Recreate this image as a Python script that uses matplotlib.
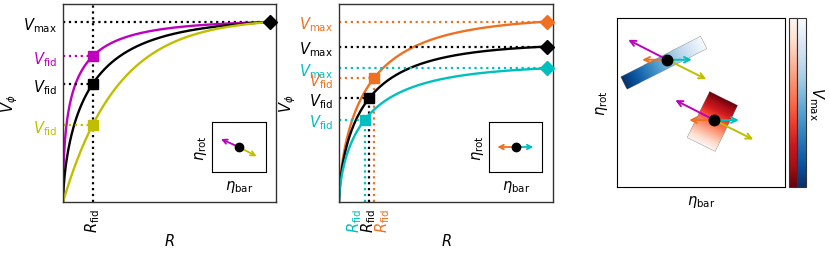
import numpy as np
import matplotlib.pyplot as plt
from matplotlib.transforms import ScaledTranslation
from matplotlib.colorbar import ColorbarBase

ORANGE = '#ee7020'

# Panel 1: same V_max, different curve shapes (magenta, black, yellow)
p1_colors = ['m', 'k', 'y']
p1_vmax = 0.909
p1_rfid = 0.139
p1_vfid = [0.736, 0.596, 0.389]
p1_shape = [0.5, 0.65, 1.0]

# Panel 2: different V_max (orange, black, cyan)
p2_colors = [ORANGE, 'k', 'c']
p2_vmax = [0.911, 0.785, 0.675]
p2_rfid = [0.164, 0.141, 0.121]
p2_vfid = [0.626, 0.524, 0.416]
p2_shape = [0.65, 0.65, 0.65]
p2_rlabel_shift = [0.085, 0.0, -0.105]   # inches, to spread the R_fid labels

r_end = 0.97

# inset arrows (tip positions, inset axes fraction)
ins1_colors = ['m', 'y']
ins1_tips = [(0.168, 0.66), (0.832, 0.314)]
ins2_colors = [ORANGE, 'c']
ins2_tips = [(0.156, 0.5), (0.831, 0.5)]

# Panel 3: two galaxies in (eta_bar, eta_rot) plane
gal_pos = [(0.299, 0.753), (0.579, 0.396)]
arrow_colors = ['m', 'y', ORANGE, 'c']
arrow_offsets = [(-0.232, 0.118), (0.232, -0.115), (-0.149, 0.0), (0.146, 0.0)]
# gradient bands: dark end, light end, width, colormap
bands = [((0.040, 0.615), (0.516, 0.856), 0.083, 'Blues'),
         ((0.635, 0.524), (0.501, 0.251), 0.187, 'Reds')]


def rot_curve(r, r_fid, v_fid, v_max, p):
    # V = Vmax * g(R)/g(R_end), g = 1 - exp(-(R/a)^p), a set by V(R_fid) = V_fid
    def g(x, a):
        return 1 - np.exp(-(x / a) ** p)
    target = v_fid / v_max
    lo, hi = np.log(1e-4), np.log(10.0)
    for i in range(80):
        mid = 0.5 * (lo + hi)
        a = np.exp(mid)
        if g(r_fid, a) / g(r_end, a) > target:
            lo = mid
        else:
            hi = mid
    a = np.exp(0.5 * (lo + hi))
    return v_max * g(r, a) / g(r_end, a)


def style_axes(ax):
    ax.set_xlim(0, 1)
    ax.set_ylim(0, 1)
    ax.tick_params(length=0, labelsize=10.5, pad=4)
    for s in ax.spines.values():
        s.set_color('0.2')
        s.set_linewidth(1.0)


def inset(fig, rect, colors, tips):
    ia = fig.add_axes(rect)
    ia.set_xlim(0, 1)
    ia.set_ylim(0, 1)
    ia.set_xticks([])
    ia.set_yticks([])
    for c, tip in zip(colors, tips):
        ia.annotate('', xy=tip, xytext=(0.5, 0.5),
                    arrowprops=dict(arrowstyle='->', color=c, lw=1.3,
                                    shrinkA=0, shrinkB=0, mutation_scale=8))
    ia.plot(0.5, 0.5, 'o', color='k', ms=6, zorder=5)
    ia.set_xlabel(r'$\eta_{\rm bar}$', fontsize=10.5, labelpad=4)
    ia.set_ylabel(r'$\eta_{\rm rot}$', fontsize=10.5, labelpad=2)
    return ia


fig = plt.figure(figsize=(8.3, 2.55), dpi=100)
r = np.linspace(0, r_end, 400)

# ---- panel 1
ax1 = fig.add_axes([0.0759, 0.2039, 0.2566, 0.7765])
style_axes(ax1)
ax1.plot([0, r_end], [p1_vmax, p1_vmax], ':', color='k', lw=1.6)
ax1.axvline(p1_rfid, ls=':', color='k', lw=1.6)
for c, vf, p in zip(p1_colors, p1_vfid, p1_shape):
    ax1.plot([0, p1_rfid], [vf, vf], ':', color=c, lw=1.6)
    ax1.plot(r, rot_curve(r, p1_rfid, vf, p1_vmax, p), color=c, lw=1.7)
    ax1.plot(p1_rfid, vf, 's', color=c, ms=7, zorder=5)
ax1.plot(r_end, p1_vmax, 'D', color='k', ms=7, zorder=5, clip_on=False)
ax1.set_yticks([p1_vmax] + p1_vfid)
ax1.set_yticklabels([r'$V_{\rm max}$'] + [r'$V_{\rm fid}$'] * 3)
for lbl, c in zip(ax1.get_yticklabels(), ['k'] + p1_colors):
    lbl.set_color(c)
ax1.set_xticks([p1_rfid])
ax1.set_xticklabels([r'$R_{\rm fid}$'], rotation=90)
ax1.set_xlabel(r'$R$', fontsize=10.5)
ax1.set_ylabel(r'$V_\phi$', fontsize=10.5)
ax1.xaxis.set_label_coords(0.5, -0.15)
ax1.yaxis.set_label_coords(-0.20, 0.5)
inset(fig, [0.2554, 0.3216, 0.0647, 0.196], ins1_colors, ins1_tips)

# ---- panel 2
ax2 = fig.add_axes([0.4084, 0.2039, 0.2578, 0.7765])
style_axes(ax2)
for c, vm, rf, vf, p in zip(p2_colors, p2_vmax, p2_rfid, p2_vfid, p2_shape):
    ax2.plot([0, r_end], [vm, vm], ':', color=c, lw=1.6)
    ax2.plot([0, rf], [vf, vf], ':', color=c, lw=1.6)
    ax2.plot([rf, rf], [0, vf], ':', color=c, lw=1.6)
    ax2.plot(r, rot_curve(r, rf, vf, vm, p), color=c, lw=1.7)
    ax2.plot(rf, vf, 's', color=c, ms=7, zorder=5)
    ax2.plot(r_end, vm, 'D', color=c, ms=7, zorder=5, clip_on=False)
ax2.set_yticks(p2_vmax + p2_vfid)
ax2.set_yticklabels([r'$V_{\rm max}$'] * 3 + [r'$V_{\rm fid}$'] * 3)
for lbl, c in zip(ax2.get_yticklabels(), p2_colors + p2_colors):
    lbl.set_color(c)
ax2.set_xticks(p2_rfid)
ax2.set_xticklabels([r'$R_{\rm fid}$'] * 3, rotation=90)
for lbl, c, dx in zip(ax2.get_xticklabels(), p2_colors, p2_rlabel_shift):
    lbl.set_color(c)
    lbl.set_transform(lbl.get_transform() + ScaledTranslation(dx, 0, fig.dpi_scale_trans))
ax2.set_xlabel(r'$R$', fontsize=10.5)
ax2.set_ylabel(r'$V_\phi$', fontsize=10.5)
ax2.xaxis.set_label_coords(0.5, -0.15)
ax2.yaxis.set_label_coords(-0.19, 0.5)
inset(fig, [0.5892, 0.3216, 0.0642, 0.196], ins2_colors, ins2_tips)

# ---- panel 3
ax3 = fig.add_axes([0.7434, 0.2627, 0.2024, 0.6627])
n = 500
gx, gy = np.meshgrid(np.linspace(0, 1, n), np.linspace(0, 1, n))
for p0, p1, w, cmap in bands:
    p0 = np.array(p0)
    p1 = np.array(p1)
    length = np.hypot(*(p1 - p0))
    ux, uy = (p1 - p0) / length
    s = ((gx - p0[0]) * ux + (gy - p0[1]) * uy) / length
    d = -(gx - p0[0]) * uy + (gy - p0[1]) * ux
    inside = (s >= 0) & (s <= 1) & (np.abs(d) <= w / 2)
    ax3.imshow(np.ma.masked_where(~inside, 1 - s), extent=(0, 1, 0, 1),
               origin='lower', cmap=cmap, vmin=0, vmax=1, aspect='auto')
for gp in gal_pos:
    for c, off in zip(arrow_colors, arrow_offsets):
        ax3.annotate('', xy=(gp[0] + off[0], gp[1] + off[1]), xytext=gp,
                     arrowprops=dict(arrowstyle='->', color=c, lw=1.4,
                                     shrinkA=0, shrinkB=0, mutation_scale=10))
    ax3.plot(gp[0], gp[1], 'o', color='k', ms=7.5, zorder=5)
ax3.set_xlim(0, 1)
ax3.set_ylim(0, 1)
ax3.set_xticks([])
ax3.set_yticks([])
ax3.set_xlabel(r'$\eta_{\rm bar}$', fontsize=10.5, labelpad=4)
ax3.set_ylabel(r'$\eta_{\rm rot}$', fontsize=10.5, labelpad=5)

# two colour bars for V_max
cax1 = fig.add_axes([0.9506, 0.2627, 0.0100, 0.6627])
cax2 = fig.add_axes([0.9606, 0.2627, 0.0105, 0.6627])
for cax, cmap in [(cax1, 'Reds_r'), (cax2, 'Blues_r')]:
    cb = ColorbarBase(cax, cmap=plt.get_cmap(cmap))
    cb.set_ticks([])
    cb.outline.set_edgecolor('0.2')
cax2.set_ylabel(r'$V_{\rm max}$', rotation=270, fontsize=10.5, labelpad=14)
cax2.yaxis.set_label_position('right')

fig.savefig('out.png', dpi=100)
